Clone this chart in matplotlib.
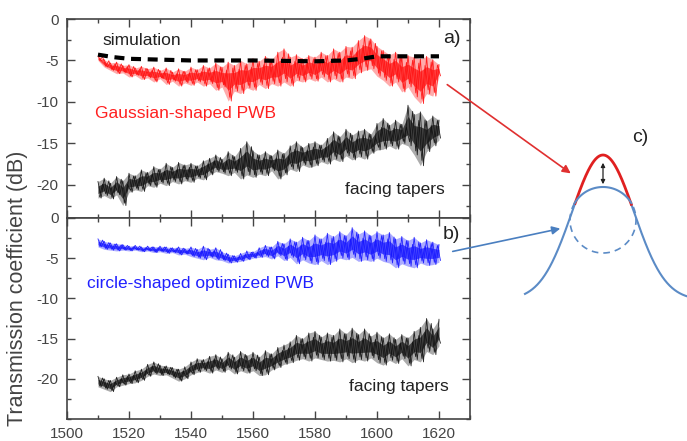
import numpy as np
import matplotlib
matplotlib.use('Agg')
import matplotlib.pyplot as plt
from matplotlib.ticker import MultipleLocator

plt.rcParams['font.family'] = ['Liberation Sans', 'DejaVu Sans']
plt.rcParams['axes.unicode_minus'] = False

# wavelength grid of the read-off envelopes (nm)
wl = np.arange(1510, 1621, 2)

# a) Gaussian-shaped PWB, upper / lower envelope of the noisy trace (dB)
red_hi = [-4.5, -4.9, -5.3, -5.2, -5.6, -5.5, -5.9, -5.7, -6.0, -5.8, -6.2, -5.9, -6.4, -6.0,
          -6.3, -5.8, -6.1, -5.6, -5.9, -5.3, -5.8, -5.2, -5.6, -5.0, -5.4, -4.8, -5.1, -4.5,
          -4.9, -4.0, -3.6, -4.6, -4.3, -4.8, -4.4, -4.6, -4.0, -4.4, -3.6, -4.0, -3.3, -3.4,
          -2.6, -2.0, -2.4, -3.3, -3.8, -4.3, -4.0, -4.6, -4.4, -4.6, -4.8, -4.5, -4.9, -5.5]
red_lo = [-5.0, -5.8, -6.2, -6.6, -6.5, -7.0, -6.8, -7.3, -7.1, -7.6, -7.2, -7.9, -7.5, -8.1,
          -7.7, -8.0, -7.6, -8.1, -7.8, -8.6, -8.2, -9.9, -8.7, -9.0, -8.3, -8.6, -7.9, -8.4,
          -7.8, -8.1, -7.6, -8.1, -7.4, -7.6, -7.2, -7.5, -7.0, -7.6, -7.2, -7.6, -7.0, -7.2,
          -6.5, -6.2, -6.0, -6.9, -7.4, -8.1, -7.6, -8.8, -8.2, -9.4, -10.2, -9.0, -9.3, -7.0]

# a) simulation (dashed)
sim_wl = [1510, 1515, 1520, 1530, 1540, 1560, 1580, 1590, 1595, 1600, 1610, 1620]
sim_db = [-4.3, -4.6, -4.8, -4.9, -5.0, -5.0, -5.1, -5.0, -4.8, -4.5, -4.5, -4.5]

# a) facing tapers
tapA_hi = [-19.6, -19.2, -19.8, -19.0, -19.5, -18.6, -18.9, -18.2, -18.5, -17.8, -18.1, -17.4,
           -17.9, -17.3, -17.6, -17.4, -17.7, -17.1, -16.8, -16.4, -16.9, -16.0, -16.6, -15.6,
           -14.8, -15.9, -16.4, -16.0, -16.5, -15.8, -16.2, -15.3, -14.8, -15.5, -15.0, -14.8,
           -15.2, -14.4, -13.6, -14.2, -13.3, -14.0, -13.5, -13.3, -13.9, -12.6, -12.0, -12.8,
           -12.2, -12.7, -10.4, -11.5, -11.2, -12.3, -11.7, -12.2]
tapA_lo = [-21.6, -21.3, -21.7, -21.2, -22.5, -20.9, -20.6, -20.8, -20.1, -20.3, -19.8, -20.1,
           -19.6, -19.9, -19.5, -19.7, -19.2, -19.4, -18.8, -18.4, -18.6, -18.9, -18.5, -19.3,
           -18.8, -19.1, -18.7, -18.9, -18.3, -19.3, -18.8, -18.1, -18.4, -17.6, -17.9, -17.7,
           -17.2, -17.5, -16.9, -17.2, -16.5, -17.0, -16.6, -16.9, -16.2, -15.8, -15.7, -15.3,
           -15.7, -15.0, -15.3, -16.4, -17.7, -16.0, -15.3, -14.6]

# b) circle-shaped optimized PWB
blue_hi = [-2.6, -2.9, -3.1, -3.2, -3.3, -3.5, -3.4, -3.6, -3.5, -3.6, -3.5, -3.6, -3.7, -3.6,
           -3.8, -3.6, -3.9, -3.5, -3.9, -3.7, -4.2, -4.5, -4.7, -4.4, -4.1, -4.2, -3.7, -3.4,
           -3.6, -2.9, -3.2, -2.6, -3.0, -2.4, -2.8, -2.1, -2.6, -1.9, -2.3, -1.7, -2.2, -1.2,
           -2.0, -1.6, -2.2, -1.7, -2.1, -1.8, -2.6, -2.3, -2.8, -2.4, -3.1, -2.7, -3.0, -3.3]
blue_lo = [-3.6, -3.9, -4.0, -4.1, -4.0, -4.1, -4.0, -4.2, -4.1, -4.3, -4.2, -4.4, -4.3, -4.6,
           -4.5, -4.8, -5.0, -5.2, -4.9, -5.2, -5.3, -5.6, -5.5, -5.4, -5.2, -5.0, -4.9, -4.8,
           -5.1, -4.7, -5.3, -4.9, -5.7, -5.2, -5.6, -5.8, -5.3, -5.8, -5.4, -5.0, -5.2, -4.9,
           -5.4, -5.2, -5.4, -5.0, -5.4, -5.6, -6.2, -5.7, -6.0, -6.2, -5.6, -5.9, -5.8, -5.5]

# b) facing tapers
tapB_hi = [-19.7, -20.0, -20.2, -19.8, -19.5, -19.4, -19.0, -18.8, -18.2, -17.9, -18.3, -18.4,
           -18.6, -18.8, -18.5, -17.9, -17.5, -17.6, -17.2, -17.0, -17.5, -16.7, -17.3, -16.6,
           -17.1, -16.7, -17.3, -16.5, -16.9, -16.1, -15.8, -15.4, -14.6, -15.0, -14.3, -14.1,
           -14.8, -14.3, -14.6, -13.8, -14.4, -13.7, -14.5, -13.8, -14.7, -14.2, -14.9, -14.4,
           -15.1, -14.5, -14.9, -14.1, -13.6, -12.5, -13.8, -12.6]
tapB_lo = [-21.0, -21.3, -21.6, -21.0, -20.8, -20.6, -20.5, -20.2, -19.7, -19.4, -19.6, -19.5,
           -19.9, -20.3, -20.0, -19.5, -19.2, -19.0, -19.3, -18.9, -19.2, -18.8, -19.4, -19.0,
           -19.3, -19.0, -19.6, -19.5, -18.9, -18.6, -18.2, -18.0, -17.7, -17.5, -17.8, -17.4,
           -17.6, -17.8, -17.7, -17.9, -17.5, -18.0, -17.6, -17.8, -17.4, -18.0, -18.3, -17.7,
           -18.1, -17.5, -18.4, -17.6, -17.9, -16.6, -17.0, -15.9]


def noisy(ax, hi, lo, color):
    # dense band between the envelopes with two crossed zigzags for the spikes
    hi = np.array(hi)
    lo = np.array(lo)
    mid = (hi + lo) / 2
    half = (hi - lo) / 2
    ax.fill_between(wl, lo, hi, color=color, alpha=0.35, lw=0)
    ax.fill_between(wl, mid - 0.45 * half, mid + 0.45 * half, color=color, alpha=0.7, lw=0)
    xs = np.column_stack([wl, wl + 1]).ravel()[:-1]
    ax.plot(xs, np.column_stack([hi, lo]).ravel()[:-1], color=color, lw=0.6, alpha=0.9)
    ax.plot(xs + 0.5, np.column_stack([mid - 0.8 * half, mid + 0.7 * half]).ravel()[:-1],
            color=color, lw=0.6, alpha=0.9)


def style(ax, ylo):
    ax.set_xlim(1500, 1630)
    ax.set_ylim(ylo, 0)
    ax.xaxis.set_major_locator(MultipleLocator(20))
    ax.xaxis.set_minor_locator(MultipleLocator(10))
    ax.yaxis.set_major_locator(MultipleLocator(5))
    ax.yaxis.set_minor_locator(MultipleLocator(2.5))
    ax.tick_params(which='both', direction='in', top=True, right=True,
                   colors='#444', labelsize=11, pad=6)
    ax.tick_params(which='major', length=6, width=1)
    ax.tick_params(which='minor', length=3, width=1)
    for s in ax.spines.values():
        s.set_color('#444')
        s.set_linewidth(1.2)


fig = plt.figure(figsize=(6.87, 4.41), dpi=100)
ax1 = fig.add_axes([0.0975, 0.5057, 0.5866, 0.4512])
ax2 = fig.add_axes([0.0975, 0.0499, 0.5866, 0.4558])

noisy(ax1, red_hi, red_lo, '#ff1010')
ax1.plot(sim_wl, sim_db, color='black', lw=3, ls=(0, (2.4, 1.6)))
noisy(ax1, tapA_hi, tapA_lo, '#111111')
style(ax1, -24)
ax1.tick_params(labelbottom=False)
ax1.set_yticks([0, -5, -10, -15, -20])

noisy(ax2, blue_hi, blue_lo, '#1515ff')
noisy(ax2, tapB_hi, tapB_lo, '#111111')
style(ax2, -25)
ax2.set_yticks([0, -5, -10, -15, -20])

ax1.text(1511.6, -2.6, 'simulation', color='#222', fontsize=12.5, va='center')
ax1.text(1509, -11.4, 'Gaussian-shaped PWB', color='#ff2020', fontsize=12.5, va='center')
ax1.text(1622, -20.6, 'facing tapers', color='#222', fontsize=12.5, va='center', ha='right')
ax1.text(1621.3, -2.3, 'a)', color='#222', fontsize=14, va='center')
ax2.text(1506.5, -8.2, 'circle-shaped optimized PWB', color='#2020ff', fontsize=12.5, va='center')
ax2.text(1623, -21.0, 'facing tapers', color='#222', fontsize=12.5, va='center', ha='right')
ax2.text(1621.3, -2.1, 'b)', color='#222', fontsize=14, va='center')

fig.text(0.026, 0.347, 'Transmission coefficient (dB)', rotation=90, color='#444',
         fontsize=15.5, ha='center', va='center')

# c) schematic, drawn in pixel coordinates over the whole figure
ov = fig.add_axes([0, 0, 1, 1], zorder=5)
ov.set_xlim(0, 687)
ov.set_ylim(441, 0)
ov.axis('off')
ov.patch.set_alpha(0)

cx, base, amp, sig = 603, 300, 145, 31      # gaussian profile
ccy, rad = 220, 33                          # circle
cut = np.sqrt(rad**2 - (ccy - 203)**2)
blue_c = '#5b8bc6'
gx = np.linspace(525, 690, 400)
gy = base - amp * np.exp(-(gx - cx)**2 / (2 * sig**2))
inner = np.abs(gx - cx) < cut
ov.plot(np.where(gx <= cx - cut, gx, np.nan), gy, color=blue_c, lw=1.5)
ov.plot(np.where(gx >= cx + cut, gx, np.nan), gy, color=blue_c, lw=1.5)
ov.plot(np.where(inner, gx, np.nan), gy, color='#e02020', lw=2)
th0 = np.arcsin((ccy - 203) / rad)
t_up = np.linspace(th0, np.pi - th0, 100)
ov.plot(cx + rad * np.cos(t_up), ccy - rad * np.sin(t_up), color=blue_c, lw=1.5)
t_dn = np.linspace(np.pi - th0, 2 * np.pi + th0, 100)
ov.plot(cx + rad * np.cos(t_dn), ccy - rad * np.sin(t_dn), color=blue_c, lw=1.2, ls=(0, (4, 3)))
ov.annotate('', xy=(cx, 160), xytext=(cx, 187),
            arrowprops=dict(arrowstyle='<|-|>', color='#222', lw=0.9, mutation_scale=6))
ov.annotate('', xy=(573, 175), xytext=(445, 83),
            arrowprops=dict(arrowstyle='-|>', color='#e03030', lw=1.2, mutation_scale=12))
ov.annotate('', xy=(563, 228), xytext=(450, 252),
            arrowprops=dict(arrowstyle='-|>', color='#4a7fc0', lw=1.2, mutation_scale=12))
ov.text(640, 137, 'c)', color='#222', fontsize=14, ha='center', va='center')

fig.savefig('out.png', dpi=100)
